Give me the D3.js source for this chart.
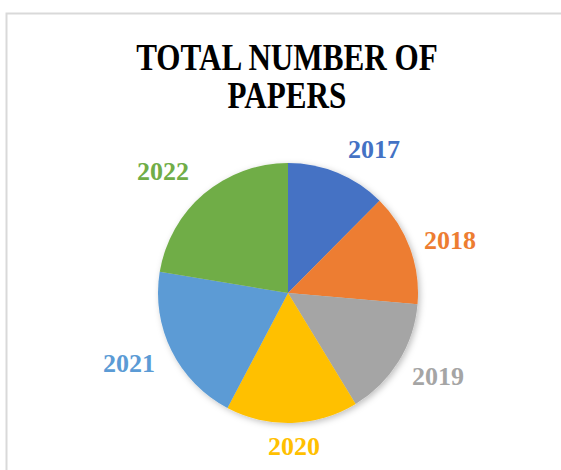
<!DOCTYPE html>
<html>
<head>
    <meta charset="utf-8">
    <script src="https://cdn.jsdelivr.net/npm/d3@7"></script>
    <style>
        html, body { margin: 0; padding: 0; background: #fff; }
    </style>
</head>
<body>
    <div id="cont"></div>

    <script>
        // data
        var years = ["2017", "2018", "2019", "2020", "2021", "2022"];
        var papers = [25, 28, 30, 33, 40, 45];
        var colors = ["#4472C4", "#ED7D31", "#A5A5A5", "#FFC000", "#5B9BD5", "#70AD47"];
        var titleLines = ["TOTAL NUMBER OF", "PAPERS"];

        // where the year labels sit (outside the pie)
        var labelPos = [
            [374, 158], [450, 249], [438, 385],
            [294, 455], [129, 372], [163, 180]
        ];

        var width = 561, height = 470;
        var cx = 288, cy = 293, radius = 130;

        var svg = d3.select("#cont").append("svg")
            .attr("width", width)
            .attr("height", height);

        // chart frame
        svg.append("rect")
            .attr("x", 6.5)
            .attr("y", 13.5)
            .attr("width", 600)
            .attr("height", 500)
            .attr("fill", "#fff")
            .attr("stroke", "#d9d9d9")
            .attr("stroke-width", 2);

        var defs = svg.append("defs");
        var shadow = defs.append("filter")
            .attr("id", "shadow")
            .attr("x", "-20%").attr("y", "-20%")
            .attr("width", "140%").attr("height", "140%");
        shadow.append("feDropShadow")
            .attr("dx", 2).attr("dy", 2)
            .attr("stdDeviation", 3)
            .attr("flood-color", "#000")
            .attr("flood-opacity", 0.25);

        // title (narrowed, like the original)
        svg.append("g")
            .attr("transform", "translate(287,0) scale(0.82,1)")
            .append("text")
            .attr("text-anchor", "middle")
            .attr("font-family", "'Liberation Serif', 'Times New Roman', serif")
            .attr("font-weight", "bold")
            .attr("font-size", 38)
            .attr("fill", "#000")
            .selectAll("tspan")
            .data(titleLines)
            .enter().append("tspan")
            .attr("x", 0)
            .attr("y", function (d, i) { return 70 + i * 38; })
            .text(function (d) { return d; });

        var pie = d3.pie().sort(null).value(function (d) { return d; });
        var arc = d3.arc().innerRadius(0).outerRadius(radius);

        var g = svg.append("g")
            .attr("transform", "translate(" + cx + "," + cy + ")")
            .attr("filter", "url(#shadow)");

        g.selectAll("path")
            .data(pie(papers))
            .enter().append("path")
            .attr("d", arc)
            .attr("fill", function (d, i) { return colors[i]; });

        svg.selectAll("text.lbl")
            .data(years)
            .enter().append("text")
            .attr("class", "lbl")
            .attr("x", function (d, i) { return labelPos[i][0]; })
            .attr("y", function (d, i) { return labelPos[i][1]; })
            .attr("text-anchor", "middle")
            .attr("font-family", "'Liberation Serif', 'Times New Roman', serif")
            .attr("font-weight", "bold")
            .attr("font-size", 26)
            .attr("fill", function (d, i) { return colors[i]; })
            .text(function (d) { return d; });
    </script>
</body>
</html>
